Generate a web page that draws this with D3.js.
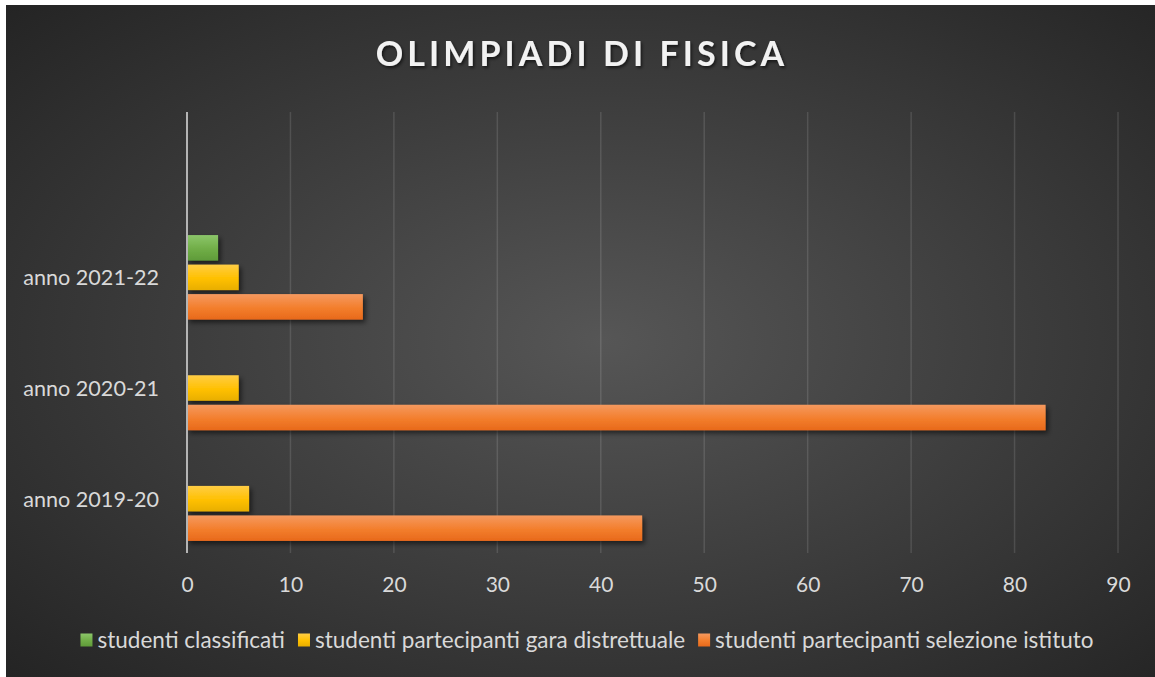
<!DOCTYPE html>
<html><head><meta charset="utf-8">
<script src="https://cdn.jsdelivr.net/npm/d3@7"></script>
<style>html,body{margin:0;padding:0;background:#fff;}svg{display:block;}</style>
</head><body>
<svg id="chart" width="1155" height="677"></svg>
<script>
const categories = ["anno 2021-22", "anno 2020-21", "anno 2019-20"];
const seriesNames = ["studenti classificati", "studenti partecipanti gara distrettuale", "studenti partecipanti selezione istituto"];
const classificati = [3, 0, 0];
const distrettuale = [5, 5, 6];
const selezione = [17, 83, 44];
const xTicks = [0, 10, 20, 30, 40, 50, 60, 70, 80, 90];
const title = "OLIMPIADI DI FISICA";

const seriesValues = [classificati, distrettuale, selezione];
const colors = [
  ["#8cc66a", "#70ad47", "#5f9b39"],
  ["#ffcd45", "#ffc000", "#e8ae00"],
  ["#f5995f", "#f37e2c", "#e8691b"]
];

const svg = d3.select("#chart");
const defs = svg.append("defs");

const bg = defs.append("radialGradient").attr("id", "bg").attr("cx", 0.52).attr("cy", 0.5).attr("r", 0.72);
bg.append("stop").attr("offset", 0).attr("stop-color", "#565656");
bg.append("stop").attr("offset", 0.68).attr("stop-color", "#343434");
bg.append("stop").attr("offset", 1).attr("stop-color", "#242424");

colors.forEach((c, i) => {
  const g = defs.append("linearGradient").attr("id", "bar" + i).attr("x1", 0).attr("y1", 0).attr("x2", 0).attr("y2", 1);
  g.append("stop").attr("offset", 0).attr("stop-color", c[0]);
  g.append("stop").attr("offset", 0.55).attr("stop-color", c[1]);
  g.append("stop").attr("offset", 1).attr("stop-color", c[2]);
});

const sh = defs.append("filter").attr("id", "shadow").attr("x", "-10%").attr("y", "-40%").attr("width", "130%").attr("height", "200%");
sh.append("feDropShadow").attr("dx", 2.5).attr("dy", 3).attr("stdDeviation", 2.5).attr("flood-color", "#000").attr("flood-opacity", 0.55);

const tsh = defs.append("filter").attr("id", "tshadow").attr("x", "-10%").attr("y", "-30%").attr("width", "120%").attr("height", "180%");
tsh.append("feDropShadow").attr("dx", 1.5).attr("dy", 2).attr("stdDeviation", 1.5).attr("flood-color", "#000").attr("flood-opacity", 0.6);

svg.append("rect").attr("x", 6).attr("y", 5).attr("width", 1149).attr("height", 672).attr("fill", "url(#bg)");

const font = "Lato, 'Open Sans', sans-serif";
const textColor = "#d9d9d9";

// Title
svg.append("text").attr("x", 582).attr("y", 66).attr("text-anchor", "middle")
  .attr("font-family", font).attr("font-weight", 700).attr("font-size", 34)
  .attr("letter-spacing", "4.1px").attr("fill", "#f2f2f2").attr("filter", "url(#tshadow)")
  .text(title);

// Scales
const x = d3.scaleLinear().domain([0, 90]).range([187, 1118]);
const y = d3.scaleBand().domain(categories).range([222, 554]).paddingInner(0).paddingOuter(0);
const ys = d3.scaleBand().domain(d3.range(seriesNames.length)).range([0, y.bandwidth()]).paddingInner(0.136).paddingOuter(0.443);
const plotTop = 112, plotBottom = 553;

// Gridlines
svg.append("g").selectAll("line").data(xTicks.slice(1)).join("line")
  .attr("x1", d => x(d)).attr("x2", d => x(d)).attr("y1", plotTop).attr("y2", plotBottom)
  .attr("stroke", "#ffffff").attr("stroke-opacity", 0.12).attr("stroke-width", 1.5);

// X axis labels
const xAxis = d3.axisBottom(x).tickValues(xTicks).tickSize(0).tickPadding(0).tickFormat(d3.format("d"));
const gx = svg.append("g").attr("transform", "translate(0,577)").call(xAxis);
gx.select(".domain").remove();
gx.selectAll("text").attr("font-family", font).attr("font-size", 21).attr("fill", textColor);

// Bars
const gBars = svg.append("g");
categories.forEach((cat, ci) => {
  seriesValues.forEach((vals, si) => {
    const v = vals[ci];
    if (v <= 0) return;
    gBars.append("rect")
      .attr("x", x(0)).attr("y", y(cat) + ys(si))
      .attr("width", x(v) - x(0)).attr("height", ys.bandwidth())
      .attr("fill", "url(#bar" + si + ")").attr("filter", "url(#shadow)");
  });
});

// Y axis line
svg.append("line").attr("x1", x(0)).attr("x2", x(0)).attr("y1", plotTop).attr("y2", plotBottom)
  .attr("stroke", "#b4b4b4").attr("stroke-width", 2);

// Y labels
const yAxis = d3.axisLeft(y).tickSize(0).tickPadding(0);
const gy = svg.append("g").attr("transform", "translate(159,1)").call(yAxis);
gy.select(".domain").remove();
gy.selectAll("text").attr("font-family", font).attr("font-size", 21.6).attr("fill", textColor);

// Legend
const leg = svg.append("g");
const items = [];
seriesNames.forEach((name, i) => {
  const g = leg.append("g");
  g.append("rect").attr("x", 0).attr("y", -6.5).attr("width", 12).attr("height", 13).attr("fill", "url(#bar" + i + ")");
  const t = g.append("text").attr("x", 17).attr("y", 0).attr("dy", "0.35em")
    .attr("font-family", font).attr("font-size", 22.5).attr("fill", textColor).text(name);
  const w = 17 + t.node().getComputedTextLength();
  items.push({ g, w });
});
const gap = 13;
const total = d3.sum(items, d => d.w) + gap * (items.length - 1);
let start = 587 - total / 2;
items.forEach(it => { it.g.attr("transform", `translate(${start},640)`); start += it.w + gap; });
</script>
</body></html>
